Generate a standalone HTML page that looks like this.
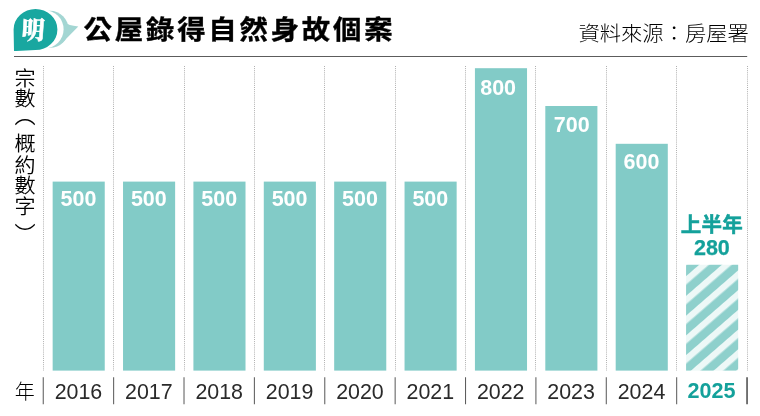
<!DOCTYPE html>
<html lang="zh-Hant">
<head>
<meta charset="utf-8">
<title>公屋錄得自然身故個案</title>
<style>
html,body{margin:0;padding:0;background:#fff;}
body{width:760px;height:416px;overflow:hidden;position:relative;}
svg{position:absolute;left:0;top:0;display:block;}
text{font-family:"Liberation Sans","Noto Sans CJK TC",sans-serif;}
.title{font-weight:700;font-size:26.4px;letter-spacing:2.62px;fill:#000;stroke:#000;stroke-width:0.35px;stroke-linejoin:round;}
.src{font-size:20px;font-weight:300;fill:#000;letter-spacing:0px;}
.ylab{font-size:20.5px;font-weight:350;fill:#000;text-anchor:middle;}
.val{font-weight:bold;font-size:21.5px;fill:#fff;text-anchor:middle;}
.year{font-size:22.5px;fill:#2a2a2a;text-anchor:middle;}
.hl{font-weight:bold;fill:#14a19b;text-anchor:middle;}
</style>
</head>
<body>
<svg width="760" height="416" viewBox="0 0 760 416">
<defs>
<pattern id="hatch" width="14.9" height="14.9" patternUnits="userSpaceOnUse" patternTransform="translate(686.25 276.0) rotate(-41)">
<rect x="0" y="0" width="14.9" height="14.9" fill="#8ed0cc"/>
<rect x="0" y="0" width="14.9" height="6.4" fill="#edf8f7"/>
</pattern>
</defs>
<g>
<circle cx="50" cy="29.3" r="18.5" fill="#a3d6d3"/>
<path d="M65 22 Q68 25.6 78.3 26.4 L61.5 43.5 Z" fill="#a3d6d3"/>
<circle cx="44.5" cy="29.3" r="19.1" fill="#fff"/>
<path d="M14 50.9 L13.6 29.5 A21.9 20.6 0 1 1 35.5 50.1 Q25 51 14 50.9 Z" fill="#19a7a0"/>
<text transform="translate(32.6 38.9) scale(1 1.08) skewX(-4)" style="font-family:'Liberation Serif','Noto Serif CJK TC','Noto Serif CJK SC',serif;font-weight:900;font-size:23px;fill:#fff;stroke:#fff;stroke-width:0.5px" text-anchor="middle">明</text>
</g>
<text class="title" transform="translate(83.6 39.3) scale(1.075 1)">公屋錄得自然身故個案</text>
<text class="src" transform="translate(578.4 40.7) scale(1.065 1)">資料來源：房屋署</text>
<rect x="14" y="56" width="733.2" height="1" fill="#5c5c5c"/>
<text class="ylab" transform="translate(25.1 85.7) scale(1.027 1)">宗</text>
<text class="ylab" transform="translate(25.1 106.0) scale(1.027 1)">數</text>
<text class="ylab" transform="translate(25.1 150.5) scale(1.027 1)">概</text>
<text class="ylab" transform="translate(25.1 172.5) scale(1.027 1)">約</text>
<text class="ylab" transform="translate(25.1 193.0) scale(1.027 1)">數</text>
<text class="ylab" transform="translate(25.1 214.4) scale(1.027 1)">字</text>
<text class="ylab" transform="translate(25 123.4) scale(1.03 1.15)">︵</text>
<text class="ylab" transform="translate(25 243.6) scale(1.03 1.15)">︶</text>
<line x1="43.5" y1="66" x2="43.5" y2="371" stroke="#b0b0b0" stroke-width="1" stroke-dasharray="1 1.1"/>
<line x1="43.25" y1="377.2" x2="43.25" y2="404.3" stroke="#5e5e5e" stroke-width="1.05"/>
<line x1="113.5" y1="66" x2="113.5" y2="371" stroke="#b0b0b0" stroke-width="1" stroke-dasharray="1 1.1"/>
<line x1="113.63" y1="377.2" x2="113.63" y2="404.3" stroke="#5e5e5e" stroke-width="1.05"/>
<line x1="184.5" y1="66" x2="184.5" y2="371" stroke="#b0b0b0" stroke-width="1" stroke-dasharray="1 1.1"/>
<line x1="184.01" y1="377.2" x2="184.01" y2="404.3" stroke="#5e5e5e" stroke-width="1.05"/>
<line x1="254.5" y1="66" x2="254.5" y2="371" stroke="#b0b0b0" stroke-width="1" stroke-dasharray="1 1.1"/>
<line x1="254.39" y1="377.2" x2="254.39" y2="404.3" stroke="#5e5e5e" stroke-width="1.05"/>
<line x1="324.5" y1="66" x2="324.5" y2="371" stroke="#b0b0b0" stroke-width="1" stroke-dasharray="1 1.1"/>
<line x1="324.77" y1="377.2" x2="324.77" y2="404.3" stroke="#5e5e5e" stroke-width="1.05"/>
<line x1="395.5" y1="66" x2="395.5" y2="371" stroke="#b0b0b0" stroke-width="1" stroke-dasharray="1 1.1"/>
<line x1="395.15" y1="377.2" x2="395.15" y2="404.3" stroke="#5e5e5e" stroke-width="1.05"/>
<line x1="465.5" y1="66" x2="465.5" y2="371" stroke="#b0b0b0" stroke-width="1" stroke-dasharray="1 1.1"/>
<line x1="465.53" y1="377.2" x2="465.53" y2="404.3" stroke="#5e5e5e" stroke-width="1.05"/>
<line x1="535.5" y1="66" x2="535.5" y2="371" stroke="#b0b0b0" stroke-width="1" stroke-dasharray="1 1.1"/>
<line x1="535.91" y1="377.2" x2="535.91" y2="404.3" stroke="#5e5e5e" stroke-width="1.05"/>
<line x1="606.5" y1="66" x2="606.5" y2="371" stroke="#b0b0b0" stroke-width="1" stroke-dasharray="1 1.1"/>
<line x1="606.29" y1="377.2" x2="606.29" y2="404.3" stroke="#5e5e5e" stroke-width="1.05"/>
<line x1="676.5" y1="66" x2="676.5" y2="371" stroke="#b0b0b0" stroke-width="1" stroke-dasharray="1 1.1"/>
<line x1="676.67" y1="377.2" x2="676.67" y2="404.3" stroke="#5e5e5e" stroke-width="1.05"/>
<line x1="747.5" y1="66" x2="747.5" y2="371" stroke="#b0b0b0" stroke-width="1" stroke-dasharray="1 1.1"/>
<line x1="747.05" y1="377.2" x2="747.05" y2="404.3" stroke="#5e5e5e" stroke-width="1.7"/>
<rect x="52.65" y="181.60" width="52.1" height="189.00" fill="#82cbc7"/>
<text class="val" x="78.44" y="206.10">500</text>
<text class="year" transform="translate(78.44 399.1) scale(0.952 1)">2016</text>
<rect x="123.03" y="181.60" width="52.1" height="189.00" fill="#82cbc7"/>
<text class="val" x="148.82" y="206.10">500</text>
<text class="year" transform="translate(148.82 399.1) scale(0.952 1)">2017</text>
<rect x="193.41" y="181.60" width="52.1" height="189.00" fill="#82cbc7"/>
<text class="val" x="219.20" y="206.10">500</text>
<text class="year" transform="translate(219.20 399.1) scale(0.952 1)">2018</text>
<rect x="263.79" y="181.60" width="52.1" height="189.00" fill="#82cbc7"/>
<text class="val" x="289.58" y="206.10">500</text>
<text class="year" transform="translate(289.58 399.1) scale(0.952 1)">2019</text>
<rect x="334.17" y="181.60" width="52.1" height="189.00" fill="#82cbc7"/>
<text class="val" x="359.96" y="206.10">500</text>
<text class="year" transform="translate(359.96 399.1) scale(0.952 1)">2020</text>
<rect x="404.55" y="181.60" width="52.1" height="189.00" fill="#82cbc7"/>
<text class="val" x="430.34" y="206.10">500</text>
<text class="year" transform="translate(430.34 399.1) scale(0.952 1)">2021</text>
<rect x="474.93" y="68.20" width="52.1" height="302.40" fill="#82cbc7"/>
<text class="val" x="498.12" y="95.40">800</text>
<text class="year" transform="translate(500.72 399.1) scale(0.952 1)">2022</text>
<rect x="545.31" y="106.00" width="52.1" height="264.60" fill="#82cbc7"/>
<text class="val" x="571.80" y="131.70">700</text>
<text class="year" transform="translate(571.10 399.1) scale(0.952 1)">2023</text>
<rect x="615.69" y="143.80" width="52.1" height="226.80" fill="#82cbc7"/>
<text class="val" x="641.48" y="169.20">600</text>
<text class="year" transform="translate(641.48 399.1) scale(0.952 1)">2024</text>
<rect x="686.07" y="264.76" width="52.1" height="105.84" fill="url(#hatch)"/>
<text class="hl" x="711.86" y="232" style="font-size:20.5px;stroke:#14a19b;stroke-width:0.5px;letter-spacing:0.3px">上半年</text>
<text class="hl" x="711.86" y="254.8" style="font-size:21.5px;stroke:#14a19b;stroke-width:0.25px">280</text>
<text class="hl" x="711.56" y="398.2" style="font-size:21.6px">2025</text>
<text x="14.8" y="399" style="font-size:20px;font-weight:300;fill:#000">年</text>
</svg>
</body>
</html>
